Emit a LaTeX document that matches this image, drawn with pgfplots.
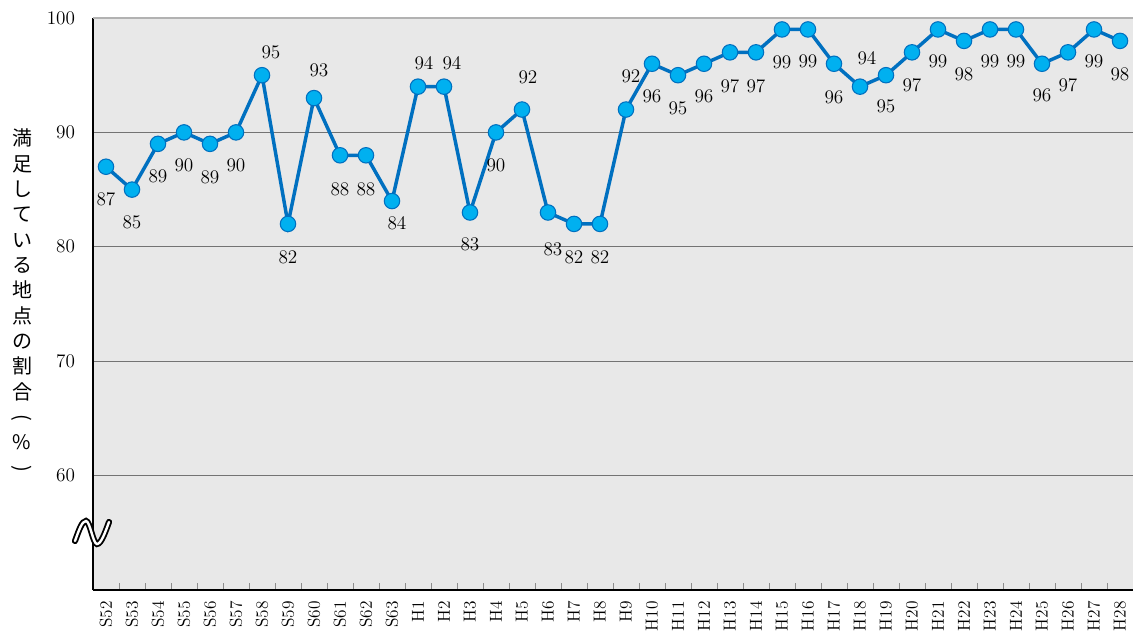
\documentclass[border=0pt]{standalone}
\usepackage{fontspec}
\usepackage{graphicx}
\usepackage{pgfplots}
\usepackage{pgfplotstable}
\pgfplotsset{compat=1.18}
\newfontfamily\cjk{Noto Sans CJK JP}
\definecolor{lineblue}{HTML}{0070C0}
\definecolor{fillblue}{HTML}{00B0F0}
\definecolor{bg}{HTML}{E8E8E8}

\pgfplotstableread{
x y dx dy
0 87 0 -33
1 85 0 -33
2 89 0 -32
3 90 0 -33
4 89 0 -33
5 90 0 -33
6 95 9 23
7 82 0 -33
8 93 5 28
9 88 0 -34
10 88 0 -34
11 84 5 -22
12 94 6 23
13 94 8 23
14 83 0 -32
15 90 0 -33
16 92 6 32
17 83 5 -37
18 82 0 -33
19 82 0 -33
20 92 5 33
21 96 0 -33
22 95 0 -33
23 96 0 -33
24 97 0 -34
25 97 0 -34
26 99 0 -33
27 99 0 -32
28 96 0 -34
29 94 7 28
30 95 0 -31
31 97 0 -33
32 99 0 -32
33 98 0 -33
34 99 0 -32
35 99 0 -32
36 96 0 -32
37 97 0 -33
38 99 0 -32
39 98 0 -33
}\data

\begin{document}
\begin{tikzpicture}
\path[use as bounding box] (0,0) rectangle (852pt,474.75pt);
\begin{axis}[
  at={(69.75pt,32.25pt)}, anchor=south west,
  scale only axis, width=780pt, height=429pt,
  xmin=-0.5, xmax=39.5, ymin=50, ymax=100,
  axis x line*=bottom, axis y line*=left,
  axis line style={black, line width=0.9pt},
  axis background/.style={fill=bg},
  xtick={0,...,39},
  xticklabels={S52,S53,S54,S55,S56,S57,S58,S59,S60,S61,S62,S63,H1,H2,H3,H4,H5,H6,H7,H8,H9,H10,H11,H12,H13,H14,H15,H16,H17,H18,H19,H20,H21,H22,H23,H24,H25,H26,H27,H28},
  major tick length=0pt,
  minor xtick={0.5,1.5,...,38.5},
  minor tick length=5pt, tick align=inside,
  minor x tick style={black!45, line width=0.7pt},
  ytick={60,70,80,90},
  extra y ticks={100},
  extra y tick style={grid style={black!30, line width=1.1pt}},
  ymajorgrids, grid style={black!55, line width=0.9pt},
  x tick label style={rotate=90, anchor=east, font=\fontsize{13}{13}\selectfont},
  y tick label style={font=\fontsize{15}{15}\selectfont},
  xticklabel shift=5pt, yticklabel shift=10pt,
  clip=false,
]
\addplot[lineblue, line width=2.6pt, mark=*, mark size=5.8pt,
  mark options={fill=fillblue, draw=lineblue, line width=0.8pt},
  nodes near coords,
  visualization depends on={\thisrow{dx} \as \dx},
  visualization depends on={\thisrow{dy} \as \dy},
  nodes near coords style={anchor=center, text=black,
    font=\fontsize{14.5}{14.5}\selectfont,
    xshift={\dx*0.75pt}, yshift={\dy*0.75pt}},
] table[x=x,y=y]{\data};
\end{axis}
\begin{scope}[x=0.75pt,y=-0.75pt,yshift=474.75pt]
  \draw[black, line width=4.6pt, line cap=round]
    (75,541) .. controls (79,530) and (82,521) .. (86,521)
    .. controls (90,521) and (93,544) .. (97,544)
    .. controls (101,544) and (105,533) .. (109,522);
  \draw[white, line width=1.8pt, line cap=round]
    (75,541) .. controls (79,530) and (82,521) .. (86,521)
    .. controls (90,521) and (93,544) .. (97,544)
    .. controls (101,544) and (105,533) .. (109,522);
  \node[align=center, inner sep=0pt, font=\cjk\fontsize{15}{19}\selectfont] at (22,302)
    {満\\足\\し\\て\\い\\る\\地\\点\\の\\割\\合\\\rotatebox[origin=c]{-90}{(}\\\%\\\rotatebox[origin=c]{-90}{)}};
\end{scope}
\end{tikzpicture}
\end{document}
